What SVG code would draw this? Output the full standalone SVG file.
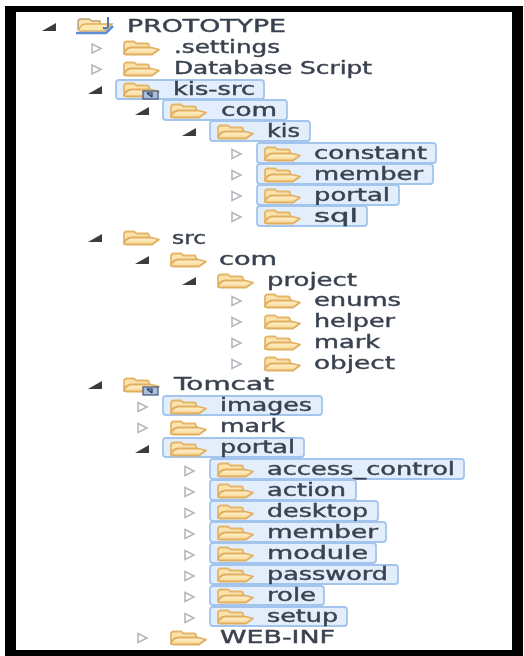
<svg xmlns="http://www.w3.org/2000/svg" width="524" height="656" viewBox="0 0 524 656">
<style>
text{font-family:"DejaVu Sans","Liberation Sans",sans-serif;font-size:17px;fill:#3a4250;stroke:#3a4250;stroke-width:.4}
.sel{fill:#e2eefc;stroke:#a3c4ec;stroke-width:1.8}
.open{fill:#3c3c3c}
.closed{fill:#fff;stroke:#b4b8be;stroke-width:1.6}
.soft{filter:url(#soft)}
</style>
<defs>
<filter id="soft" x="-5%" y="-5%" width="110%" height="110%"><feGaussianBlur stdDeviation="0.5"/></filter>
<linearGradient id="fg" x1="0" y1="0" x2="0" y2="1"><stop offset="0" stop-color="#fff3d0"/><stop offset="1" stop-color="#f8d793"/></linearGradient>
<symbol id="folder" width="38" height="16" viewBox="0 0 38 16" overflow="visible">
<path d="M2 13V4Q2 1.500 5 1.500H12L14.500 3.500H25Q27 3.500 27 6V8H10Z" fill="#fbe3ae" stroke="#e5b568" stroke-width="1.800" stroke-linejoin="round"/>
<path d="M2 14Q3 8.500 9 7.500H29L37 9.500L30 14.500H4Z" fill="url(#fg)" stroke="#e2ae5e" stroke-width="1.800" stroke-linejoin="round"/>
</symbol>
<symbol id="link" width="18" height="9" viewBox="0 0 18 9" overflow="visible">
<rect x="1" y="1" width="15" height="8" fill="#a9bfdc" stroke="#4c5f7c" stroke-width="1.300"/>
<path d="M5 3H10V7M5 3L10 7" fill="none" stroke="#25344c" stroke-width="1.200"/>
</symbol>
<path id="to" class="open" d="M0 4L14 -4V4Z"/>
<path id="tc" class="closed" d="M0 -4.500L9 0L0 4.500Z"/>
</defs>
<rect width="524" height="656" fill="#fff"/>
<path fill="#000" fill-rule="evenodd" d="M5 6H523V656H5ZM16 12V650H512V12Z"/>
<g class="soft">
<g id="connectors"/>
<g id="n-prototype"><use href="#to" x="42" y="27"/><path d="M78 30V22Q78 19 81 19H89L92 21H100V25" fill="#fbe3ae" stroke="#b9a176" stroke-width="1.500"/><path d="M79 30Q80 25 85 24H112L105 31H80Z" fill="#fde7b2" stroke="#e2ae5e" stroke-width="1.500"/><path d="M76 33H106L113 26" fill="none" stroke="#5c8fd6" stroke-width="2.500"/><path d="M108 17V26Q108 29 103 28" fill="none" stroke="#3f6fb8" stroke-width="1.800"/><text x="127" y="32" textLength="159" lengthAdjust="spacingAndGlyphs">PROTOTYPE</text></g>
<g id="n-settings"><use href="#tc" x="92" y="48.500"/><use href="#folder" x="122" y="40"/><text x="174" y="53" textLength="106" lengthAdjust="spacingAndGlyphs">.settings</text></g>
<g id="n-dbscript"><use href="#tc" x="92" y="69.500"/><use href="#folder" x="122" y="61"/><text x="174" y="74" textLength="198" lengthAdjust="spacingAndGlyphs">Database Script</text></g>
<g id="n-kis-src"><rect class="sel" x="116" y="80" width="148" height="19" rx="3"/><use href="#to" x="88" y="90"/><use href="#folder" x="122" y="82"/><use href="#link" x="142" y="90"/><text x="173" y="95" textLength="82" lengthAdjust="spacingAndGlyphs">kis-src</text></g>
<g id="n-com1"><rect class="sel" x="163" y="100" width="124" height="20" rx="3"/><use href="#to" x="135" y="111"/><use href="#folder" x="169" y="103"/><text x="221" y="116" textLength="56" lengthAdjust="spacingAndGlyphs">com</text></g>
<g id="n-kis"><rect class="sel" x="210" y="121" width="100" height="20" rx="3"/><use href="#to" x="182" y="132"/><use href="#folder" x="216" y="124"/><text x="267" y="137" textLength="33" lengthAdjust="spacingAndGlyphs">kis</text></g>
<g id="n-constant"><rect class="sel" x="257" y="143" width="179" height="20" rx="3"/><use href="#tc" x="232" y="154"/><use href="#folder" x="263" y="146"/><text x="314" y="159" textLength="113" lengthAdjust="spacingAndGlyphs">constant</text></g>
<g id="n-member1"><rect class="sel" x="257" y="164" width="176" height="20" rx="3"/><use href="#tc" x="232" y="175"/><use href="#folder" x="263" y="167"/><text x="314" y="180" textLength="109" lengthAdjust="spacingAndGlyphs">member</text></g>
<g id="n-portal1"><rect class="sel" x="257" y="185" width="142" height="20" rx="3"/><use href="#tc" x="232" y="196"/><use href="#folder" x="263" y="188"/><text x="314" y="201" textLength="76" lengthAdjust="spacingAndGlyphs">portal</text></g>
<g id="n-sql"><rect class="sel" x="257" y="206" width="110" height="20" rx="3"/><use href="#tc" x="232" y="217"/><use href="#folder" x="263" y="209"/><text x="314" y="222" textLength="44" lengthAdjust="spacingAndGlyphs">sql</text></g>
<g id="n-src"><use href="#to" x="88" y="238"/><use href="#folder" x="122" y="230"/><text x="172" y="244" textLength="34" lengthAdjust="spacingAndGlyphs">src</text></g>
<g id="n-com2"><use href="#to" x="135" y="260"/><use href="#folder" x="169" y="252"/><text x="219" y="265" textLength="58" lengthAdjust="spacingAndGlyphs">com</text></g>
<g id="n-project"><use href="#to" x="182" y="281"/><use href="#folder" x="216" y="273"/><text x="267" y="286" textLength="90" lengthAdjust="spacingAndGlyphs">project</text></g>
<g id="n-enums"><use href="#tc" x="232" y="301"/><use href="#folder" x="263" y="293"/><text x="314" y="306" textLength="87" lengthAdjust="spacingAndGlyphs">enums</text></g>
<g id="n-helper"><use href="#tc" x="232" y="322"/><use href="#folder" x="263" y="314"/><text x="314" y="327" textLength="81" lengthAdjust="spacingAndGlyphs">helper</text></g>
<g id="n-mark1"><use href="#tc" x="232" y="343"/><use href="#folder" x="263" y="335"/><text x="314" y="348" textLength="66" lengthAdjust="spacingAndGlyphs">mark</text></g>
<g id="n-object"><use href="#tc" x="232" y="364"/><use href="#folder" x="263" y="356"/><text x="314" y="369" textLength="81" lengthAdjust="spacingAndGlyphs">object</text></g>
<g id="n-tomcat"><use href="#to" x="88" y="385"/><use href="#folder" x="122" y="377"/><use href="#link" x="142" y="386"/><text x="174" y="390" textLength="100" lengthAdjust="spacingAndGlyphs">Tomcat</text></g>
<g id="n-images"><rect class="sel" x="163" y="396" width="159" height="19" rx="3"/><use href="#tc" x="138" y="407"/><use href="#folder" x="169" y="399"/><text x="220" y="411" textLength="92" lengthAdjust="spacingAndGlyphs">images</text></g>
<g id="n-mark2"><use href="#tc" x="138" y="428"/><use href="#folder" x="169" y="420"/><text x="220" y="432" textLength="65" lengthAdjust="spacingAndGlyphs">mark</text></g>
<g id="n-portal2"><rect class="sel" x="163" y="438" width="141" height="19" rx="3"/><use href="#to" x="135" y="449"/><use href="#folder" x="169" y="441"/><text x="220" y="453" textLength="75" lengthAdjust="spacingAndGlyphs">portal</text></g>
<g id="n-access"><rect class="sel" x="210" y="459" width="254" height="20" rx="3"/><use href="#tc" x="185" y="471"/><use href="#folder" x="216" y="462"/><text x="267" y="475" textLength="188" lengthAdjust="spacingAndGlyphs">access_control</text></g>
<g id="n-action"><rect class="sel" x="210" y="480" width="146" height="20" rx="3"/><use href="#tc" x="185" y="492"/><use href="#folder" x="216" y="483"/><text x="267" y="496" textLength="79" lengthAdjust="spacingAndGlyphs">action</text></g>
<g id="n-desktop"><rect class="sel" x="210" y="501" width="168" height="20" rx="3"/><use href="#tc" x="185" y="513"/><use href="#folder" x="216" y="504"/><text x="267" y="517" textLength="101" lengthAdjust="spacingAndGlyphs">desktop</text></g>
<g id="n-member2"><rect class="sel" x="210" y="522" width="176" height="20" rx="3"/><use href="#tc" x="185" y="534"/><use href="#folder" x="216" y="525"/><text x="267" y="538" textLength="111" lengthAdjust="spacingAndGlyphs">member</text></g>
<g id="n-module"><rect class="sel" x="210" y="543" width="166" height="20" rx="3"/><use href="#tc" x="185" y="555"/><use href="#folder" x="216" y="546"/><text x="267" y="559" textLength="101" lengthAdjust="spacingAndGlyphs">module</text></g>
<g id="n-password"><rect class="sel" x="210" y="565" width="188" height="19" rx="3"/><use href="#tc" x="185" y="576"/><use href="#folder" x="216" y="567"/><text x="267" y="580" textLength="121" lengthAdjust="spacingAndGlyphs">password</text></g>
<g id="n-role"><rect class="sel" x="210" y="586" width="114" height="19" rx="3"/><use href="#tc" x="185" y="597"/><use href="#folder" x="216" y="588"/><text x="267" y="601" textLength="49" lengthAdjust="spacingAndGlyphs">role</text></g>
<g id="n-setup"><rect class="sel" x="210" y="607" width="137" height="19" rx="3"/><use href="#tc" x="185" y="618"/><use href="#folder" x="216" y="609"/><text x="267" y="622" textLength="71" lengthAdjust="spacingAndGlyphs">setup</text></g>
<g id="n-webinf"><use href="#tc" x="138" y="638"/><use href="#folder" x="169" y="630"/><text x="220" y="643" textLength="115" lengthAdjust="spacingAndGlyphs">WEB-INF</text></g>
</g>
</svg>
